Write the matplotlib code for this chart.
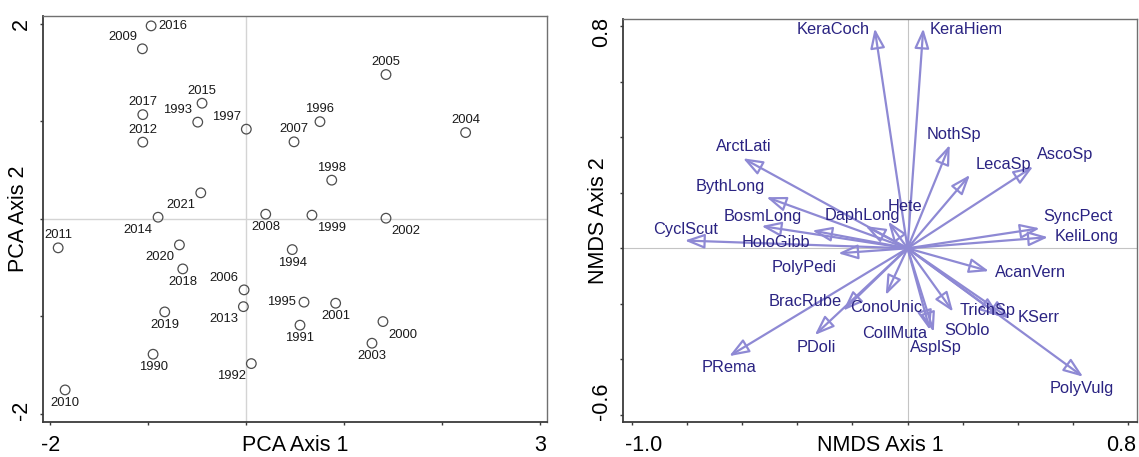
import matplotlib
matplotlib.use("Agg")
import matplotlib.pyplot as plt
from matplotlib.patches import FancyArrowPatch
from matplotlib.transforms import ScaledTranslation

plt.rcParams['font.family'] = ['Liberation Sans', 'DejaVu Sans']

# =============================
#  PCA site scores (one per year)
# =============================
years = [1990, 1991, 1992, 1993, 1994, 1995, 1996, 1997, 1998, 1999,
         2000, 2001, 2002, 2003, 2004, 2005, 2006, 2007, 2008, 2009,
         2010, 2011, 2012, 2013, 2014, 2015, 2016, 2017, 2018, 2019,
         2020, 2021]
pca1 = [-0.949, 0.551, 0.054, -0.493, 0.472, 0.592, 0.755, 0.003, 0.875, 0.673,
        1.398, 0.915, 1.429, 1.286, 2.242, 1.429, -0.020, 0.490, 0.201, -1.058,
        -1.847, -1.918, -1.054, -0.027, -0.898, -0.449, -0.969, -1.054, -0.646, -0.830,
        -0.680, -0.462]
pca2 = [-1.388, -1.090, -1.484, 0.992, -0.315, -0.854, 0.997, 0.920, 0.397, 0.038,
        -1.053, -0.865, 0.007, -1.275, 0.885, 1.480, -0.728, 0.790, 0.048, 1.744,
        -1.754, -0.297, 0.787, -0.900, 0.017, 1.186, 1.979, 1.069, -0.513, -0.954,
        -0.267, 0.267]
# side of the point where the year label sits
year_side = ['b', 'b', 'bl', 'al', 'b', 'l', 'a', 'al', 'a', 'br',
             'br', 'b', 'br', 'b', 'a', 'a', 'al', 'a', 'b', 'al',
             'b', 'a', 'a', 'bl', 'bl', 'a', 'r', 'a', 'b', 'b',
             'bl', 'bl']

pca_xticks = [-2, -1, 0, 1, 2, 3]
pca_xlabels = ['-2', '', '', '', '', '3']
pca_yticks = [-2, -1, 0, 1, 2]
pca_ylabels = ['-2', '', '', '', '2']

# =============================
#  NMDS species vectors
# =============================
species = ['KeraCoch', 'KeraHiem', 'ArctLati', 'BythLong', 'BosmLong', 'HoloGibb',
           'DaphLong', 'Hete', 'CyclScut', 'NothSp', 'LecaSp', 'AscoSp',
           'SyncPect', 'KeliLong', 'AcanVern', 'PolyPedi', 'BracRube', 'ConoUnic',
           'PDoli', 'PRema', 'CollMuta', 'AsplSp', 'SOblo', 'TrichSp', 'KSerr',
           'PolyVulg']
nmds1 = [-0.119, 0.057, -0.596, -0.511, -0.529, -0.345,
         -0.152, -0.070, -0.807, 0.153, 0.226, 0.455,
         0.479, 0.509, 0.295, -0.251, -0.233, -0.079,
         -0.336, -0.646, 0.081, 0.095, 0.165, 0.334, 0.371,
         0.636]
nmds2 = [0.791, 0.791, 0.324, 0.184, 0.080, 0.064,
         0.080, 0.096, 0.028, 0.372, 0.264, 0.294,
         0.072, 0.040, -0.082, -0.018, -0.224, -0.168,
         -0.312, -0.388, -0.294, -0.301, -0.228, -0.244, -0.253,
         -0.462]
# where each species name is written
species_lx = [-0.270, 0.214, -0.592, -0.644, -0.526, -0.478,
              -0.164, -0.010, -0.803, 0.167, 0.346, 0.570,
              0.618, 0.649, 0.446, -0.376, -0.370, -0.079,
              -0.331, -0.647, -0.046, 0.102, 0.214, 0.292, 0.476,
              0.633]
species_ly = [0.789, 0.786, 0.366, 0.222, 0.114, 0.022,
              0.117, 0.150, 0.066, 0.408, 0.303, 0.336,
              0.114, 0.042, -0.086, -0.070, -0.190, -0.214,
              -0.356, -0.430, -0.306, -0.356, -0.297, -0.224, -0.248,
              -0.504]

nmds_xticks = [-1.0, -0.8, -0.6, -0.4, -0.2, 0.0, 0.2, 0.4, 0.6, 0.8]
nmds_xlabels = ['-1.0', '', '', '', '', '', '', '', '', '0.8']
nmds_yticks = [-0.6, -0.4, -0.2, 0.0, 0.2, 0.4, 0.6, 0.8]
nmds_ylabels = ['-0.6', '', '', '', '', '', '', '0.8']

# label offsets in pixels (dx, dy up)
SIDE_OFFSET = {'a': (0, 12.5), 'b': (0, -13), 'al': (-20, 12), 'bl': (-20, -12.5),
               'br': (20, -13), 'r': (22, 0), 'l': (-23, 0)}
PX = 0.72  # points per pixel at dpi 100

ARROW_COL = '#8e89d4'
TEXT_COL = '#2a2382'


def style_axes(ax):
    for side in ('left', 'bottom'):
        ax.spines[side].set_color('#3a3a3a')
        ax.spines[side].set_linewidth(1.3)
    for side in ('top', 'right'):
        ax.spines[side].set_color('#707070')
        ax.spines[side].set_linewidth(1.0)
    ax.tick_params(axis='both', direction='out', length=2.4, width=1.0,
                   color='#3a3a3a', labelsize=15.5)
    ax.tick_params(axis='x', pad=7.4)
    ax.tick_params(axis='y', pad=5.5, labelrotation=90)
    for lab in ax.get_yticklabels():
        lab.set_va('center')


def shift(fig, label, dx, dy):
    label.set_transform(label.get_transform() +
                        ScaledTranslation(dx / 100, dy / 100, fig.dpi_scale_trans))


fig = plt.figure(figsize=(11.39, 4.57), dpi=100)

# ---------- PCA panel ----------
ax1 = fig.add_axes([0.0380, 0.0772, 0.4420, 0.8877])
ax1.set_xlim(-2.07, 3.07)
ax1.set_ylim(-2.08, 2.08)
ax1.axhline(0, color='#d4d4d4', lw=1.0, zorder=0)
ax1.axvline(0, color='#d4d4d4', lw=1.0, zorder=0)
ax1.scatter(pca1, pca2, s=48, facecolors='none', edgecolors='#4d4d4d',
            linewidths=0.9, zorder=3)
for yr, x, y, side in zip(years, pca1, pca2, year_side):
    dx, dy = SIDE_OFFSET[side]
    ax1.annotate(str(yr), (x, y), xytext=(dx * PX, dy * PX),
                 textcoords='offset points', ha='center', va='center',
                 fontsize=9.4, color='#1a1a1a', annotation_clip=False)
ax1.set_xticks(pca_xticks)
ax1.set_xticklabels(pca_xlabels)
ax1.set_yticks(pca_yticks)
ax1.set_yticklabels(pca_ylabels)
style_axes(ax1)
ax1.set_xlabel('PCA Axis 1', fontsize=15.5)
ax1.xaxis.set_label_coords(0.5, -0.0574)
ax1.xaxis.label.set_va('center')
ax1.set_ylabel('PCA Axis 2', fontsize=15.5)
ax1.yaxis.set_label_coords(-0.0497, 0.5)
ax1.yaxis.label.set_va('center')
shift(fig, ax1.get_yticklabels()[0], 0, 4)

# ---------- NMDS panel ----------
ax2 = fig.add_axes([0.5472, 0.0772, 0.4507, 0.8805])
ax2.set_xlim(-1.030, 0.830)
ax2.set_ylim(-0.624, 0.824)
ax2.axhline(0, color='#c4c4c4', lw=0.8, zorder=0)
ax2.axvline(0, color='#c4c4c4', lw=0.8, zorder=0)
for x, y in zip(nmds1, nmds2):
    arr = FancyArrowPatch((0, 0), (x, y),
                          arrowstyle='-|>,head_length=1.2,head_width=0.45',
                          mutation_scale=10, lw=1.6, edgecolor=ARROW_COL,
                          facecolor='none', shrinkA=0, shrinkB=0, zorder=2)
    ax2.add_patch(arr)
for name, lx, ly in zip(species, species_lx, species_ly):
    ax2.text(lx, ly, name, ha='center', va='center', fontsize=11.8,
             color=TEXT_COL, zorder=3)
ax2.set_xticks(nmds_xticks)
ax2.set_xticklabels(nmds_xlabels)
ax2.set_yticks(nmds_yticks)
ax2.set_yticklabels(nmds_ylabels)
style_axes(ax2)
ax2.set_xlabel('NMDS Axis 1', fontsize=15.5)
ax2.xaxis.set_label_coords(0.5, -0.058)
ax2.xaxis.label.set_va('center')
ax2.set_ylabel('NMDS Axis 2', fontsize=15.5)
ax2.yaxis.set_label_coords(-0.049, 0.5)
ax2.yaxis.label.set_va('center')
xl = ax2.get_xticklabels()
shift(fig, xl[0], 12, 0)
shift(fig, xl[-1], -7, 0)
yl = ax2.get_yticklabels()
shift(fig, yl[0], 0, 14)
shift(fig, yl[-1], 0, -6)

fig.savefig('out.png', dpi=100)
